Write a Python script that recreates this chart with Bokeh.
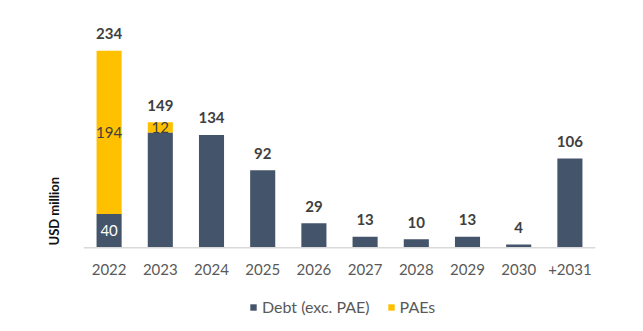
from bokeh.plotting import figure
from bokeh.models import ColumnDataSource, Legend, LegendItem, Range1d, FactorRange, Title, Span
from bokeh.core.properties import value
from bokeh.embed import file_html
from bokeh.resources import INLINE

years = ["2022", "2023", "2024", "2025", "2026", "2027", "2028", "2029", "2030", "+2031"]
debt = [40, 137, 134, 92, 29, 13, 10, 13, 4, 106]
paes = [194, 12, 0, 0, 0, 0, 0, 0, 0, 0]
totals = [234, 149, 134, 92, 29, 13, 10, 13, 4, 106]
debt_labels = ["40", "", "", "", "", "", "", "", "", ""]
paes_labels = ["194", "12", "", "", "", "", "", "", "", ""]

DARK = "#44546A"
GOLD = "#FFC000"
FONT = "Lato"

debt_mid = [d / 2 for d in debt]
paes_mid = [d + p / 2 for d, p in zip(debt, paes)]
zeros = [0] * len(years)

src = ColumnDataSource(dict(x=years, debt=debt, paes=paes, totals=totals,
                            total_txt=[str(t) for t in totals],
                            debt_lab=debt_labels, paes_lab=paes_labels,
                            debt_mid=debt_mid, paes_mid=paes_mid, zero=zeros))

p = figure(x_range=FactorRange(*years, range_padding=0), y_range=Range1d(-99.5, 270),
           width=643, height=331,
           output_backend="svg", toolbar_location=None,
           min_border_left=83, min_border_right=48, min_border_top=20, min_border_bottom=0)
p.outline_line_color = None
p.xgrid.visible = False
p.ygrid.visible = False
p.yaxis.visible = False
p.xaxis.visible = False
p.background_fill_color = "white"
p.border_fill_color = "white"

r1 = p.vbar_stack(["debt", "paes"], x="x", width=0.49, source=src,
                  color=[DARK, GOLD], line_color=None)

p.add_layout(Span(location=0, dimension="width", line_color="#D9D9D9", line_width=1.5))

p.text(x="x", y="totals", text="total_txt", source=src, y_offset=-17,
       text_align="center", text_baseline="middle", text_font=value(FONT),
       text_font_size="15px", text_font_style="bold", text_color="#404040")
p.text(x="x", y="debt_mid", text="debt_lab", source=src,
       text_align="center", text_baseline="middle", text_font=value(FONT),
       text_font_size="15px", text_color="white")
p.text(x="x", y="paes_mid", text="paes_lab", source=src,
       text_align="center", text_baseline="middle", text_font=value(FONT),
       text_font_size="15px", text_color="#404040")
# category tick labels
p.text(x="x", y="zero", text="x", source=src, y_offset=22,
       text_align="center", text_baseline="middle", text_font=value(FONT),
       text_font_size="15px", text_color="#595959")

ytitle = Title(text="USD million", align="left", text_font=FONT,
               text_font_size="13px", text_font_style="bold", text_color="#111111",
               offset=86, standoff=43)
p.add_layout(ytitle, "left")

legend = Legend(items=[LegendItem(label="Debt (exc. PAE)", renderers=[r1[0]]),
                       LegendItem(label="PAEs", renderers=[r1[1]])],
                orientation="horizontal", location=(166, 15),
                label_text_font=FONT, label_text_font_size="16px",
                label_text_color="#595959", glyph_width=8, glyph_height=8,
                label_standoff=5, spacing=17, border_line_color=None,
                background_fill_alpha=0, padding=4, margin=0)
p.add_layout(legend)

open("out.html", "w").write(file_html(p, INLINE))
